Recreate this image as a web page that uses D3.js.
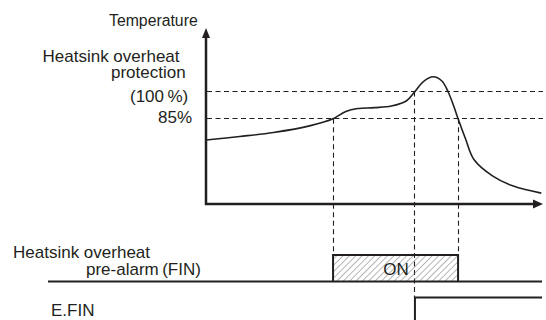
<!DOCTYPE html>
<html>
<head>
<meta charset="utf-8">
<script src="https://cdn.jsdelivr.net/npm/d3@7"></script>
<style>
html,body{margin:0;padding:0;background:#fff;}
svg{display:block;}
text{font-family:"Liberation Sans",Arial,Helvetica,sans-serif;fill:#231f20;}
</style>
</head>
<body>
<svg id="chart" width="546" height="320"></svg>
<script>
// ---- data ----
const curveTime = [0, 10, 20, 31, 37.7, 41.5, 45, 50, 55, 59.5, 62, 64.5, 67.4, 70, 71.8, 73.5, 74.8, 77, 79.5, 85, 91, 99.5];
const curveTemp = [73.3, 75.2, 77.4, 81.2, 85, 89.0, 90.6, 91.1, 92.0, 94.9, 100, 105.5, 108.1, 105.8, 100, 92, 85, 74, 62.5, 53.5, 48.0, 44.0];
const thresholds = [100, 85];
const eventTimes = [37.7, 62, 74.8]; // 85% rise, 100% rise, 85% fall
const topLabels = ["Temperature", "Heatsink overheat", "protection", "(100\u2009%)", "85%"];
const lowLabels = ["Heatsink overheat", "pre-alarm\u2009(FIN)", "E.FIN", "ON"];

// ---- scales ----
const svg = d3.select("#chart");
const x = d3.scaleLinear().domain([0, 100]).range([206, 543]);
const y = d3.scaleLinear().domain([38, 135]).range([204, 28]);
const ink = "#231f20";
const crisp = v => Math.round(v - 0.5) + 0.5;
const dash = "5,3.5";

// hatch pattern
const defs = svg.append("defs");
const pat = defs.append("pattern").attr("id", "hatch").attr("patternUnits", "userSpaceOnUse")
  .attr("width", 4.5).attr("height", 4.5).attr("patternTransform", "rotate(45)");
pat.append("line").attr("x1", 0).attr("y1", 0).attr("x2", 0).attr("y2", 4.5)
  .attr("stroke", "#6e6e6e").attr("stroke-width", 1);

// threshold dashed lines
svg.selectAll("line.th").data(thresholds).join("line").attr("class", "th")
  .attr("x1", x(0) + 1).attr("x2", x(100))
  .attr("y1", d => crisp(y(d))).attr("y2", d => crisp(y(d)))
  .attr("stroke", ink).attr("stroke-width", 1.1).attr("stroke-dasharray", dash);

// lower timing levels
const preBase = 281.5, preTop = 255, efinHigh = 297.5;

// vertical event dashed lines
const evTop = [85, 100, 85];
const evBottom = [preTop, efinHigh, preTop];
svg.selectAll("line.ev").data(eventTimes).join("line").attr("class", "ev")
  .attr("x1", d => crisp(x(d))).attr("x2", d => crisp(x(d)))
  .attr("y1", (d, i) => y(evTop[i])).attr("y2", (d, i) => evBottom[i])
  .attr("stroke", ink).attr("stroke-width", 1.1).attr("stroke-dasharray", dash);

// ON box
svg.append("rect").attr("x", x(eventTimes[0])).attr("y", preTop)
  .attr("width", x(eventTimes[2]) - x(eventTimes[0])).attr("height", preBase - preTop)
  .attr("fill", "url(#hatch)");
svg.append("text").attr("x", (x(eventTimes[0]) + x(eventTimes[2])) / 2 + 0.5).attr("y", 274.5)
  .attr("text-anchor", "middle").attr("font-size", 17).text(lowLabels[3]);
svg.append("path")
  .attr("d", `M${x(eventTimes[0])},${preBase}V${preTop}H${x(eventTimes[2])}V${preBase}`)
  .attr("fill", "none").attr("stroke", ink).attr("stroke-width", 2);

// pre-alarm baseline
svg.append("line").attr("x1", 48).attr("x2", 542).attr("y1", preBase).attr("y2", preBase)
  .attr("stroke", ink).attr("stroke-width", 2);

// E.FIN step
svg.append("path")
  .attr("d", `M${x(eventTimes[1])},322V${efinHigh}H542`)
  .attr("fill", "none").attr("stroke", ink).attr("stroke-width", 2);

// temperature curve
const pts = curveTime.map((t, i) => [x(t), y(curveTemp[i])]);
svg.append("path").attr("d", d3.line().curve(d3.curveCatmullRom.alpha(0.5))(pts))
  .attr("fill", "none").attr("stroke", ink).attr("stroke-width", 1.6);

// axes
svg.append("path").attr("d", `M${x(0)},36V${y(38)}H536`)
  .attr("fill", "none").attr("stroke", ink).attr("stroke-width", 2.5);
svg.append("path").attr("d", `M${x(0)},28L${x(0) - 4},38L${x(0) + 4},38Z`).attr("fill", ink);
svg.append("path").attr("d", `M543,${y(38)}L533,${y(38) - 4.5}L533,${y(38) + 4.5}Z`).attr("fill", ink);

// labels
const tl = [
  {t: topLabels[0], x: 109, y: 26, s: 15.8},
  {t: topLabels[1], x: 42.5, y: 61.5, s: 17},
  {t: topLabels[2], x: 111, y: 77.5, s: 17},
  {t: topLabels[3], x: 130, y: 101.5, s: 17},
  {t: topLabels[4], x: 158, y: 123, s: 17},
  {t: lowLabels[0], x: 13, y: 257.5, s: 17},
  {t: lowLabels[1], x: 86, y: 275, s: 17},
  {t: lowLabels[2], x: 51, y: 316, s: 17}
];
svg.selectAll("text.lbl").data(tl).join("text").attr("class", "lbl")
  .attr("x", d => d.x).attr("y", d => d.y).attr("font-size", d => d.s).text(d => d.t);
</script>
</body>
</html>
